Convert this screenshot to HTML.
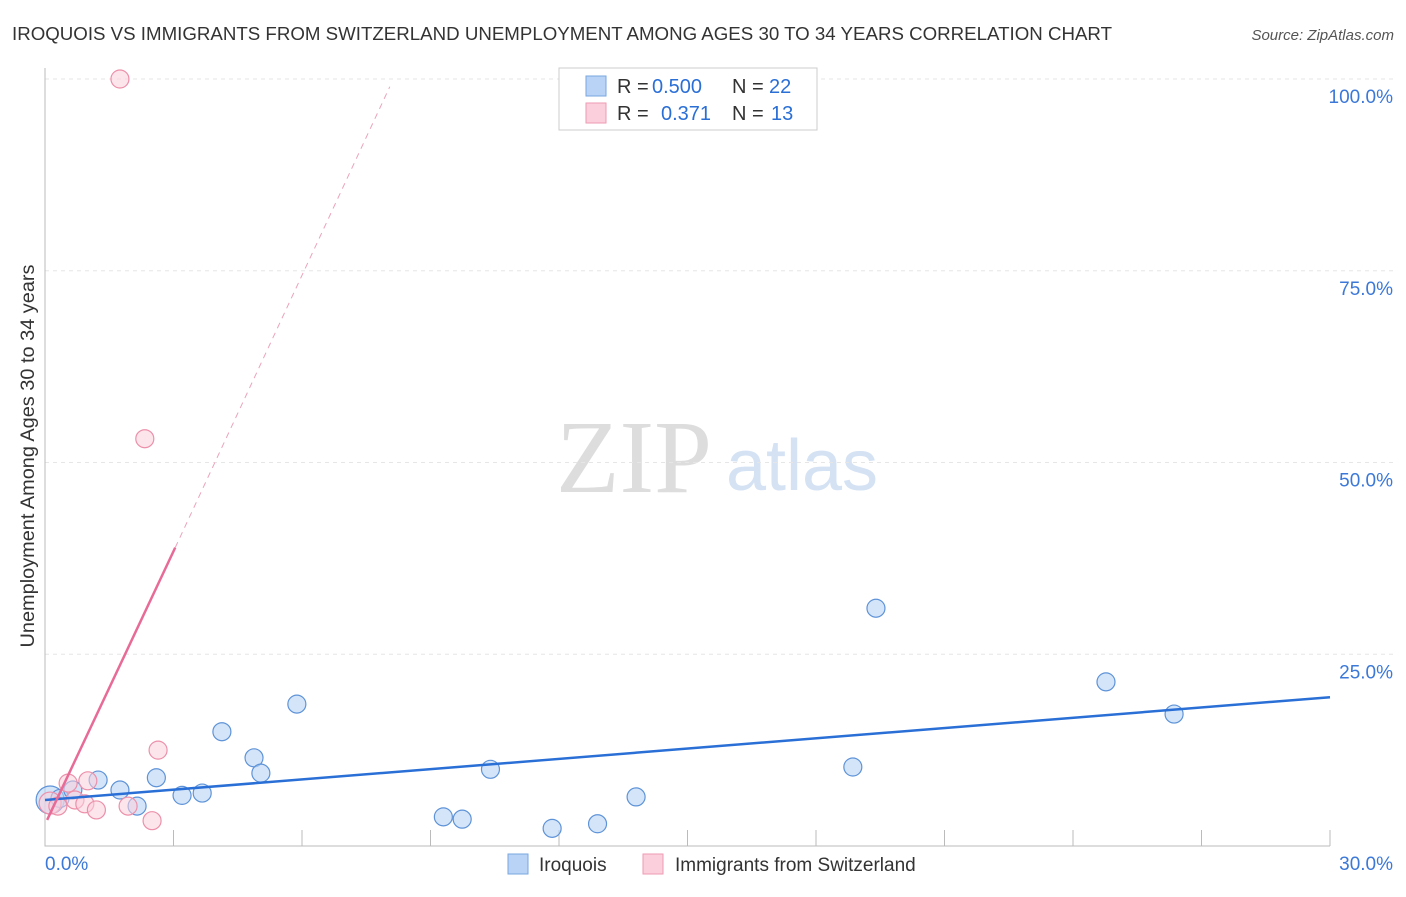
<!DOCTYPE html>
<html><head><meta charset="utf-8"><style>
body{margin:0;background:#fff;font-family:"Liberation Sans",sans-serif}
</style></head><body>
<svg id="c" width="1406" height="892" xmlns="http://www.w3.org/2000/svg">
<text x="12" y="40" font-size="18" fill="#333" textLength="1100" lengthAdjust="spacingAndGlyphs">IROQUOIS VS IMMIGRANTS FROM SWITZERLAND UNEMPLOYMENT AMONG AGES 30 TO 34 YEARS CORRELATION CHART</text>
<text x="1394" y="40" font-size="15" fill="#555" font-style="italic" text-anchor="end">Source: ZipAtlas.com</text>
<text x="634" y="492" font-size="104" fill="#ddd" font-family="Liberation Serif,serif" text-anchor="middle">ZIP</text>
<text x="802" y="490" font-size="72" fill="#d4e2f4" text-anchor="middle">atlas</text>
<text transform="translate(34,456) rotate(-90)" font-size="19" fill="#333" text-anchor="middle" textLength="383" lengthAdjust="spacingAndGlyphs">Unemployment Among Ages 30 to 34 years</text>
<g id="grid"></g><g id="marks"></g>
<g font-size="20">
<rect x="559" y="68" width="258" height="62" fill="#fff" stroke="#ccc"/>
<rect x="586" y="76" width="20" height="20" fill="#b8d3f5" stroke="#7aa7e0"/>
<text x="617" y="93" fill="#333">R =</text><text x="652" y="93" fill="#2a6fd6">0.500</text>
<text x="732" y="93" fill="#333">N =</text><text x="769" y="93" fill="#2a6fd6">22</text>
<rect x="586" y="103" width="20" height="20" fill="#fbd0dc" stroke="#ef9ab3"/>
<text x="617" y="120" fill="#333">R =</text><text x="661" y="120" fill="#2a6fd6">0.371</text>
<text x="732" y="120" fill="#333">N =</text><text x="771" y="120" fill="#2a6fd6">13</text>
</g>
<g>
<rect x="508" y="854" width="20" height="20" fill="#b8d3f5" stroke="#7aa7e0"/>
<text x="539" y="871" font-size="19" fill="#333">Iroquois</text>
<rect x="643" y="854" width="20" height="20" fill="#fbd0dc" stroke="#ef9ab3"/>
<text x="675" y="871" font-size="19" fill="#333">Immigrants from Switzerland</text>
</g>
</svg>
<script>
const yTicks=[25,50,75,100];
const yTickLabels=["25.0%","50.0%","75.0%","100.0%"];
const xTicks=[3,6,9,12,15,18,21,24,27,30];
const blueX=[0.12,0.35,0.65,1.24,1.75,2.15,2.6,3.2,3.67,4.13,4.88,5.04,5.88,9.3,9.74,10.4,11.84,12.9,13.8,18.86,19.4,24.77,26.36];
const blueY=[6.0,6.2,7.3,8.6,7.3,5.2,8.9,6.6,6.9,14.9,11.5,9.5,18.5,3.8,3.5,10.0,2.3,2.9,6.4,10.3,31.0,21.4,17.2];
const pinkX=[1.75,2.33,2.64,2.5,0.54,1.0,0.7,0.93,1.2,1.94,0.12,0.3];
const pinkY=[100,53.1,12.5,3.3,8.2,8.5,6.0,5.5,4.7,5.2,5.6,5.2];
const blueLine=[[0,6.0],[30,19.4]];
const pinkLine=[[0.05,3.4],[3.04,38.9]];
const pinkDash=[[3.04,38.9],[8.05,99]];
const X=v=>45+v/30*1285, Y=v=>846-v/100*767;
const NS="http://www.w3.org/2000/svg";
function mk(p,t,a){const e=document.createElementNS(NS,t);for(const k in a)e.setAttribute(k,a[k]);p.appendChild(e);return e;}
const g=document.getElementById('grid'),m=document.getElementById('marks');
yTicks.forEach((t,i)=>{
 const l=mk(g,'line',{x1:45,x2:1394,y1:Y(t),y2:Y(t),stroke:'#e6e6e6','stroke-dasharray':'4,4'});
 
 
 const tx=mk(g,'text',{x:1393,y:Y(t)+24,'font-size':19,fill:'#3b78d8','text-anchor':'end'});tx.textContent=yTickLabels[i];
 
 
});
const ax=mk(g,'path',{d:'M45,68V846H1330',stroke:'#bbb',fill:'none'});


xTicks.forEach(t=>{const l=mk(g,'line',{x1:X(t),x2:X(t),y1:846,y2:830,stroke:'#bbb'});
 
 });
const x0=mk(g,'text',{x:45,y:870,'font-size':19,fill:'#3b78d8'});x0.textContent='0.0%';


const x1=mk(g,'text',{x:1393,y:870,'font-size':19,fill:'#3b78d8','text-anchor':'end'});x1.textContent='30.0%';


blueX.forEach((v,i)=>{const c=mk(m,'circle',{cx:X(v),cy:Y(blueY[i]),r:i==0?14:9,fill:'#b8d3f5','fill-opacity':0.6,stroke:'#5e93d8','stroke-width':1.2});
 
 });
pinkX.forEach((v,i)=>{const c=mk(m,'circle',{cx:X(v),cy:Y(pinkY[i]),r:i==10?11:9,fill:'#fbd0dc','fill-opacity':0.55,stroke:'#ec90aa','stroke-width':1.2});
 
 });
const bl=mk(m,'line',{x1:X(blueLine[0][0]),y1:Y(blueLine[0][1]),x2:X(blueLine[1][0]),y2:Y(blueLine[1][1]),stroke:'#2a6fd6','stroke-width':2.5});


const pl=mk(m,'line',{x1:X(pinkLine[0][0]),y1:Y(pinkLine[0][1]),x2:X(pinkLine[1][0]),y2:Y(pinkLine[1][1]),stroke:'#e86b97','stroke-width':2.5});


const pd=mk(m,'line',{x1:X(pinkDash[0][0]),y1:Y(pinkDash[0][1]),x2:X(pinkDash[1][0]),y2:Y(pinkDash[1][1]),stroke:'#eba3bb','stroke-width':1,'stroke-dasharray':'6,5'});


</script>
</body></html>
